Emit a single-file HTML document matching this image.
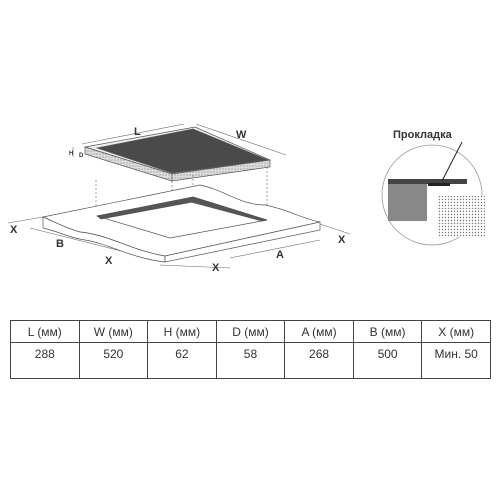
<!DOCTYPE html>
<html><head><meta charset="utf-8"><style>
body{margin:0;background:#fff;width:500px;height:500px;overflow:hidden;font-family:"Liberation Sans","DejaVu Sans",sans-serif}
svg{position:absolute;left:0;top:0}
table{position:absolute;left:10px;top:320px;border-collapse:collapse;width:481px;font-size:12px;color:#333}
td{border:1.5px solid #444;text-align:center;padding:0;width:68.7px}
tr.h td{height:21px}tr.v td{height:31px;vertical-align:top;padding-top:4px}
</style></head><body>
<svg width="500" height="310">
<defs><pattern id="dots" width="3" height="3" patternUnits="userSpaceOnUse"><rect width="3" height="3" fill="#fff"/><circle cx="1.5" cy="1.5" r="0.7" fill="#777"/></pattern>
<pattern id="spk" width="3" height="3" patternUnits="userSpaceOnUse"><rect width="3" height="3" fill="#ddd"/><circle cx="1" cy="1" r="0.6" fill="#888"/></pattern></defs>
<g stroke="#555" stroke-width="0.7">
<polygon points="85,147 195,127 270,160 172,174" fill="#eee"/>
<polygon points="85,147 172,174 172,181 85,154" fill="url(#spk)"/>
<polygon points="172,174 270,160 270,167 172,181" fill="url(#spk)"/>
<polygon points="97,148 193,129 268,160 172,173" fill="#4a4a4a"/>
</g>
<g stroke="#666" stroke-width="0.6" fill="none">
<line x1="82" y1="144" x2="184" y2="124"/><line x1="196" y1="124" x2="286" y2="155"/>
<line x1="73" y1="147" x2="73" y2="157"/>
<line x1="96" y1="180" x2="96" y2="220" stroke-dasharray="2,2"/><line x1="172" y1="181" x2="172" y2="240" stroke-dasharray="2,2"/><line x1="193" y1="175" x2="193" y2="200" stroke-dasharray="2,2"/><line x1="267" y1="167" x2="267" y2="222" stroke-dasharray="2,2"/>
<line x1="8" y1="223" x2="43" y2="217"/><line x1="30" y1="228" x2="165" y2="262"/><line x1="160" y1="265" x2="230" y2="268"/>
<line x1="320" y1="224" x2="350" y2="234"/><line x1="230" y1="258" x2="320" y2="240"/>
</g>
<g stroke="#555" stroke-width="0.7" fill="#fff">
<path d="M43,217 L200,185 C225,190 240,205 265,205 C290,210 300,218 320,222 L165,256 C130,250 110,235 80,232 C65,228 55,222 43,217 Z"/>
<path d="M43,217 L43,228 C60,232 70,238 85,240 C110,244 130,258 165,262 L165,256 C130,250 110,235 80,232 C65,228 55,222 43,217Z"/>
<polygon points="165,256 320,222 320,230 165,262"/>
<polygon points="97,216 193,197 267,220 170,238" fill="#fff"/>
<polygon points="97,216 193,197 193,202 101,219" fill="#555"/>
<polygon points="193,197 267,220 262,221 191,202" fill="#555"/>
</g>
<g font-weight="bold" font-size="11" fill="#333">
<text x="134" y="135">L</text><text x="236" y="138">W</text>
<text x="69" y="155" font-size="6">H</text><text x="79" y="157" font-size="6">D</text>
<text x="10" y="233">X</text><text x="56" y="247">B</text><text x="105" y="264">X</text>
<text x="212" y="271">X</text><text x="276" y="258">A</text><text x="338" y="243">X</text>
</g>
<g>
<circle cx="432" cy="195" r="50" fill="#fff" stroke="#999" stroke-width="0.8"/>
<rect x="388" y="184" width="39" height="37" fill="#888"/>
<rect x="437" y="196" width="48" height="41" fill="url(#dots)"/>
<rect x="388" y="179" width="79" height="5" fill="#444"/>
<rect x="428" y="183" width="22" height="3" fill="#222"/>
<line x1="442" y1="181" x2="462" y2="142" stroke="#222" stroke-width="1"/>
<text x="393" y="138" font-size="11" font-weight="bold" fill="#333">Прокладка</text>
</g>
</svg>
<table>
<tr class="h"><td>L (мм)</td><td>W (мм)</td><td>H (мм)</td><td>D (мм)</td><td>A (мм)</td><td>B (мм)</td><td>X (мм)</td></tr>
<tr class="v"><td>288</td><td>520</td><td>62</td><td>58</td><td>268</td><td>500</td><td>Мин. 50</td></tr>
</table>
</body></html>
